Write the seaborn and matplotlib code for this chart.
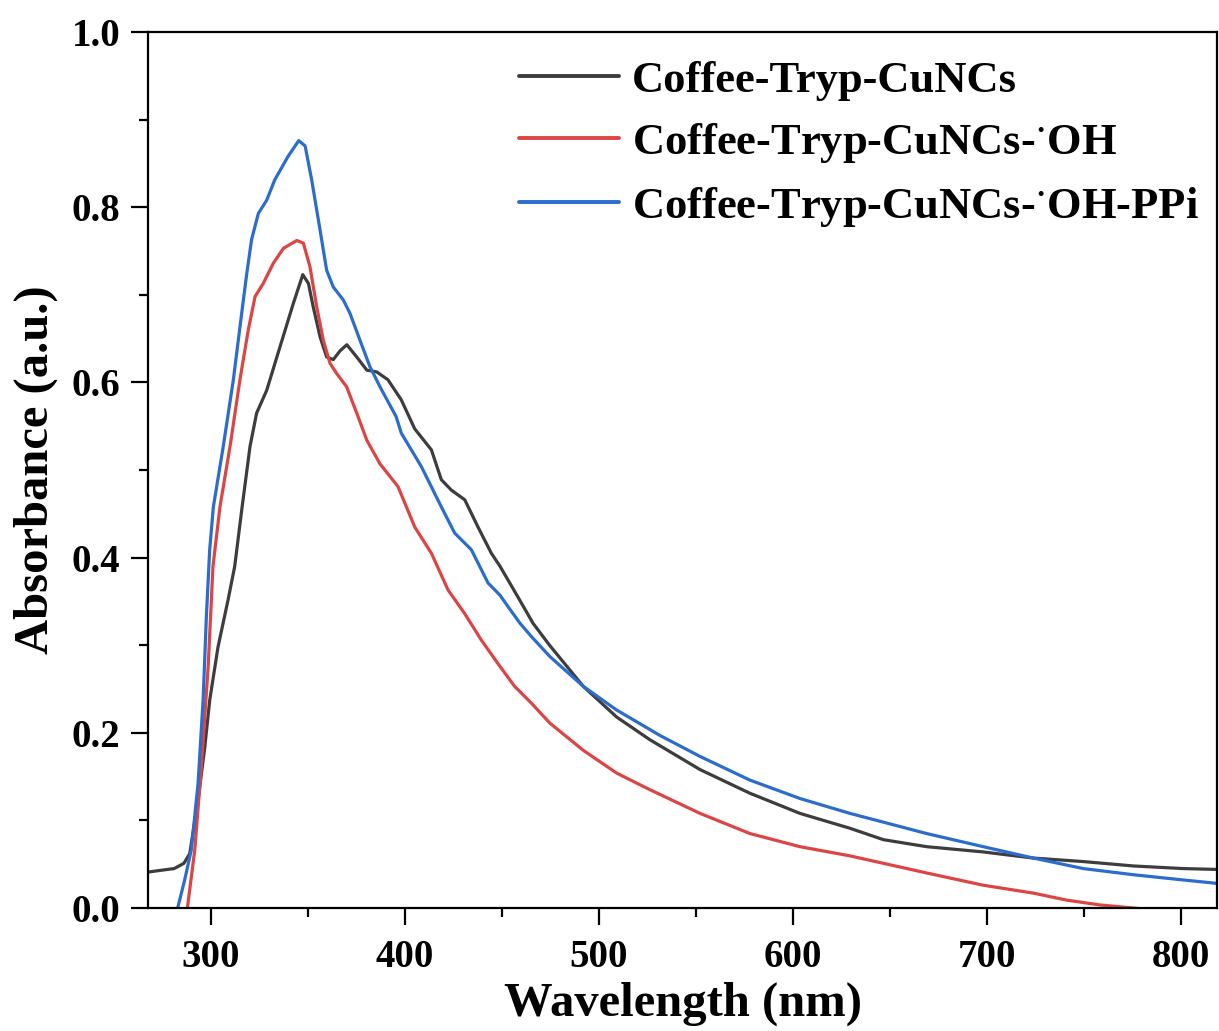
import numpy as np
import pandas as pd
import matplotlib
matplotlib.use("Agg")
import matplotlib.pyplot as plt
from matplotlib.ticker import MultipleLocator, FormatStrFormatter
import seaborn as sns

# ---- data ----
labels = ["Coffee-Tryp-CuNCs", "Coffee-Tryp-CuNCs-$^{\\mathrm{·}}$OH",
          "Coffee-Tryp-CuNCs-$^{\\mathrm{·}}$OH-PPi"]
colors = ["#3d3d3d", "#dd4444", "#2b6dcc"]

x_black = [267.5, 274, 281, 286, 289, 293.3, 296.8, 299.3, 303.6, 308.8, 312.2, 315.8, 320.1,
           323.5, 328.7, 335.6, 342.4, 347.3, 350.2, 352.7, 356.2, 359.6, 363, 366.5, 370,
           375.1, 380.3, 385.4, 391.2, 398.1, 405, 413.6, 418.7, 423.9, 430.8, 437.6, 444.5,
           449, 459, 466, 474.5, 491.9, 509.1, 526.3, 552.1, 577.8, 603.6, 629.4, 646.6,
           668.9, 698.1, 723.9, 749.7, 775.4, 801.2, 819]
y_black = [0.041, 0.043, 0.045, 0.051, 0.062, 0.123, 0.184, 0.237, 0.298, 0.352, 0.390, 0.454, 0.527,
           0.565, 0.591, 0.641, 0.690, 0.723, 0.713, 0.686, 0.652, 0.629, 0.626, 0.636, 0.643,
           0.629, 0.614, 0.612, 0.603, 0.580, 0.547, 0.523, 0.489, 0.477, 0.466, 0.435, 0.405,
           0.390, 0.352, 0.325, 0.300, 0.253, 0.218, 0.192, 0.158, 0.131, 0.108, 0.091, 0.078,
           0.070, 0.064, 0.057, 0.053, 0.048, 0.045, 0.044]

x_red = [287.8, 291.6, 295, 298.5, 301, 304.6, 309.8, 314.9, 319.2, 322.7, 326.9, 332.1, 337.3,
         344.2, 347.6, 351, 354.5, 357.9, 361.3, 364.8, 369.9, 375.1, 380.3, 387.1, 396.4,
         405, 413.6, 422.2, 430.8, 439.3, 447.9, 456.5, 465.1, 474.7, 491.9, 509.1,
         526.3, 552.1, 577.8, 603.6, 629.4, 646.6, 668.9, 698.1, 723.9, 741.1, 758.2, 775.4,
         790, 819]
y_red = [0.0, 0.066, 0.161, 0.275, 0.390, 0.458, 0.527, 0.603, 0.660, 0.698, 0.713, 0.736, 0.753,
         0.762, 0.759, 0.732, 0.686, 0.648, 0.622, 0.610, 0.595, 0.565, 0.534, 0.507, 0.481,
         0.435, 0.405, 0.363, 0.336, 0.306, 0.279, 0.253, 0.234, 0.211, 0.180, 0.154,
         0.135, 0.108, 0.085, 0.070, 0.0595, 0.051, 0.040, 0.026, 0.017, 0.009, 0.0035, 0.0,
         -0.003, -0.006]

x_blue = [282.8, 286.4, 289.8, 293.3, 295.9, 297.6, 299.3, 301.2, 306.3, 311.5, 315.8, 318.4,
          320.9, 324.4, 328.7, 332.8, 339.7, 345.2, 348.5, 351.9, 356.2, 359.6, 363, 368.2,
          371.6, 376.8, 381.9, 387.1, 395.4, 398.1, 408.4, 418.7, 425.6, 434.2, 442.8, 449,
          453.1, 459.3, 465.1, 474.7, 491.9, 509.1, 531.4, 552.1, 577.8, 603.6, 629.4, 646.6,
          668.9, 698.1, 723.9, 749.7, 775.4, 801.2, 819]
y_blue = [0.0, 0.032, 0.066, 0.142, 0.237, 0.333, 0.409, 0.458, 0.527, 0.603, 0.679, 0.724,
          0.763, 0.793, 0.808, 0.831, 0.858, 0.876, 0.870, 0.831, 0.774, 0.728, 0.709, 0.694,
          0.679, 0.648, 0.618, 0.595, 0.561, 0.542, 0.504, 0.458, 0.428, 0.409, 0.371, 0.357,
          0.344, 0.325, 0.310, 0.287, 0.253, 0.226, 0.197, 0.173, 0.146, 0.125, 0.108, 0.098,
          0.085, 0.070, 0.057, 0.045, 0.038, 0.032, 0.028]

df = pd.concat([
    pd.DataFrame({"Wavelength": x_black, "Absorbance": y_black, "Sample": labels[0]}),
    pd.DataFrame({"Wavelength": x_red, "Absorbance": y_red, "Sample": labels[1]}),
    pd.DataFrame({"Wavelength": x_blue, "Absorbance": y_blue, "Sample": labels[2]}),
], ignore_index=True)

# ---- style ----
sns.set_style("ticks")
plt.rcParams["font.family"] = ["Liberation Serif", "DejaVu Serif"]
plt.rcParams["font.weight"] = "bold"
plt.rcParams["axes.labelweight"] = "bold"
plt.rcParams["text.color"] = "black"
plt.rcParams["axes.labelcolor"] = "black"
plt.rcParams["xtick.color"] = "black"
plt.rcParams["ytick.color"] = "black"
plt.rcParams["xtick.labelcolor"] = "black"
plt.rcParams["ytick.labelcolor"] = "black"
plt.rcParams["mathtext.fontset"] = "custom"
plt.rcParams["mathtext.rm"] = "Liberation Serif:bold"
plt.rcParams["mathtext.it"] = "Liberation Serif:bold:italic"
plt.rcParams["mathtext.bf"] = "Liberation Serif:bold"

fig = plt.figure(figsize=(12.19, 10.31), dpi=100)
ax = fig.add_axes([148 / 1219, 1 - 908 / 1031, (1217 - 148) / 1219, (908 - 32) / 1031])

sns.lineplot(data=df, x="Wavelength", y="Absorbance", hue="Sample",
             palette=dict(zip(labels, colors)), hue_order=labels,
             estimator=None, sort=True, linewidth=2.3, ax=ax)

ax.set_xlim(267.5, 818.6)
ax.set_ylim(0, 1.0)
ax.xaxis.set_major_locator(MultipleLocator(100))
ax.xaxis.set_minor_locator(MultipleLocator(50))
ax.yaxis.set_major_locator(MultipleLocator(0.2))
ax.yaxis.set_minor_locator(MultipleLocator(0.1))
ax.yaxis.set_major_formatter(FormatStrFormatter("%.1f"))

for s in ax.spines.values():
    s.set_linewidth(1.6)
    s.set_color("black")
ax.tick_params(which="major", direction="out", length=12, width=1.6, labelsize=28,
               color="black", labelcolor="black")
ax.tick_params(which="minor", direction="out", length=6.5, width=1.6, color="black")
ax.tick_params(axis="x", which="major", pad=10)
ax.tick_params(axis="y", which="major", pad=8)
for lab in ax.get_xticklabels() + ax.get_yticklabels():
    lab.set_fontweight("bold")

ax.set_xlabel("Wavelength (nm)", fontsize=35, fontweight="bold", labelpad=4, color="black")
ax.set_ylabel("Absorbance (a.u.)", fontsize=35, fontweight="bold", labelpad=10, color="black")

leg = ax.legend(loc="upper left", bbox_to_anchor=(0.347, 0.967), frameon=False,
                prop={"family": ["Liberation Serif", "DejaVu Serif"], "weight": "bold", "size": 32},
                handlelength=2.25, handletextpad=0.3, labelspacing=0.45,
                borderpad=0, borderaxespad=0)
for txt in leg.get_texts():
    txt.set_color("black")
for line in leg.get_lines():
    line.set_linewidth(2.8)

fig.savefig("out.png", dpi=100)
